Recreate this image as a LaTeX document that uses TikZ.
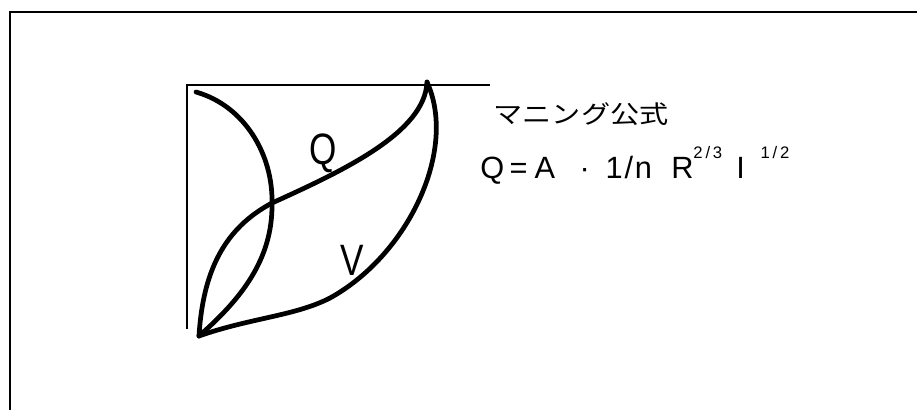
\documentclass[tikz,border=0pt]{standalone}
\usepackage{fontspec}
\setmainfont{Liberation Sans}
\newfontfamily\jpfont{Noto Sans CJK JP}
\usetikzlibrary{positioning}

\tikzset{
  curve/.style={line width=2.7pt, line cap=round, line join=round},
  axis/.style={line width=0.9pt},
  letter/.style={font=\fontsize{25}{25}\selectfont, xscale=0.8, inner sep=0pt}
}
\newcommand{\supnum}[1]{\raisebox{0.62em}{\fontsize{9.5}{9.5}\selectfont #1}}

\begin{document}
\begin{tikzpicture}[x=0.02cm, y=-0.02cm]
\useasboundingbox (0,0) rectangle (917,410);
\draw [line width=1.2pt] (10,410) -- (10,12) -- (917,12);
% points of the chart
\coordinate (O) at (199,336);
\coordinate (C) at (427,82);
\coordinate (S) at (196,92);
\coordinate (X) at (272,203);
\coordinate (M) at (330,298);
\coordinate (top) at (187,85);
\coordinate (topend) at (490,85);
\coordinate (bottom) at (187,329);
\draw [axis] (bottom) -- (top) -- (topend);
\draw [curve] (S) .. controls (245,106) and (273,155) .. (X)
  .. controls (273,260) and (240,300) .. (O);
\draw [curve] (O) .. controls (203,270) and (225,228) .. (X)
  .. controls (345,170) and (425,132) .. (C);
\draw [curve] (O) .. controls (250,318) and (295,316) .. (M)
  .. controls (408,255) and (458,150) .. (C);
\node [letter] (q) at (323,153) {Q};
\node [letter] (v) at (352,260) {V};
\node [font=\jpfont\fontsize{16.6}{16.6}\selectfont, yscale=0.85, inner sep=0pt] (title) at (581,114) {マニング公式};
\node [anchor=base west, inner sep=0pt, font=\fontsize{17.5}{17.5}\selectfont] (formula) at (480,178)
  {Q\hspace{3pt}=\hspace{4pt}A\hspace{14pt}·\hspace{9pt}1\hspace{1pt}/\hspace{1pt}n\hspace{11pt}R\supnum{2\,/\,3}\hspace{8pt}I\hspace{9pt}\supnum{1\,/\,2}};
\end{tikzpicture}
\end{document}
